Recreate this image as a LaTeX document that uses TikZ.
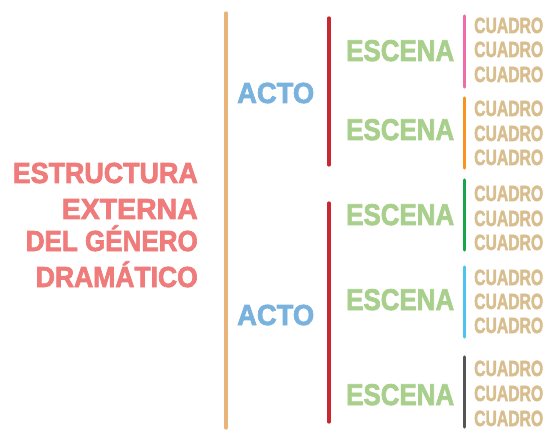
\documentclass[tikz,border=0pt]{standalone}
\usepackage{fontspec}
\setmainfont{Liberation Sans}[BoldFeatures={FakeBold=2.5}]
\definecolor{rojotitulo}{RGB}{239,123,123}
\definecolor{azulacto}{RGB}{122,178,222}
\definecolor{verdeescena}{RGB}{168,207,140}
\definecolor{tancuadro}{RGB}{216,190,142}
\definecolor{naranjabarra}{RGB}{232,180,122}
\definecolor{rojobarra}{RGB}{200,40,50}
\definecolor{rosa}{RGB}{238,108,168}
\definecolor{naranja}{RGB}{247,147,30}
\definecolor{verde}{RGB}{26,165,75}
\definecolor{celeste}{RGB}{79,195,240}
\definecolor{gris}{RGB}{85,85,85}
\newcommand{\ancho}[2]{\resizebox{#1}{\height}{#2}}
\begin{document}
\begin{tikzpicture}[x=1pt,y=-1pt,line cap=round,
		barra/.style={line width=3.2pt},
		titulo/.style={anchor=base east,inner sep=0pt,text=rojotitulo,font=\bfseries\fontsize{29}{30}\selectfont},
		acto/.style={anchor=base west,inner sep=0pt,text=azulacto,font=\bfseries\fontsize{29}{30}\selectfont},
		escena/.style={anchor=base west,inner sep=0pt,text=verdeescena,font=\bfseries\fontsize{30}{31}\selectfont},
		cuadro/.style={anchor=base west,inner sep=0pt,text=tancuadro,font=\bfseries\fontsize{22}{23}\selectfont}]
	\useasboundingbox (0,0) rectangle (548,430);
	% titulo
	\foreach \y/\w/\t [count=\i] in {183/185/ESTRUCTURA,219/136/EXTERNA,251/172/DEL GÉNERO,287/162/DRAMÁTICO}
		\node[titulo] (titulo\i) at (198,\y) {\ancho{\w pt}{\t}};
	% barras
	\draw[barra,color=naranjabarra] (226,13)--(226,428);
	\draw[barra,color=rojobarra] (329,18)--(329,165) (329,203)--(329,422);
	\foreach \a/\b/\c in {16/87/rosa,98/168/naranja,180/250/verde,267/337/celeste,357/427/gris}
		\draw[barra,color=\c] (464.5,\a)--(464.5,\b);
	% actos, escenas, cuadros
	\foreach \y [count=\i] in {103,325}
		\node[acto] (acto\i) at (237,\y) {\ancho{77pt}{ACTO}};
	\foreach \y [count=\i] in {61,140,225,310,405}
		\node[escena] (escena\i) at (346,\y) {\ancho{108pt}{ESCENA}};
	\foreach \y [count=\i] in {33,57,82,116,141,165,201,226,250,285,309,333,376,401,426}
		\node[cuadro] (cuadro\i) at (474,\y) {\ancho{69pt}{CUADRO}};
\end{tikzpicture}
\end{document}
